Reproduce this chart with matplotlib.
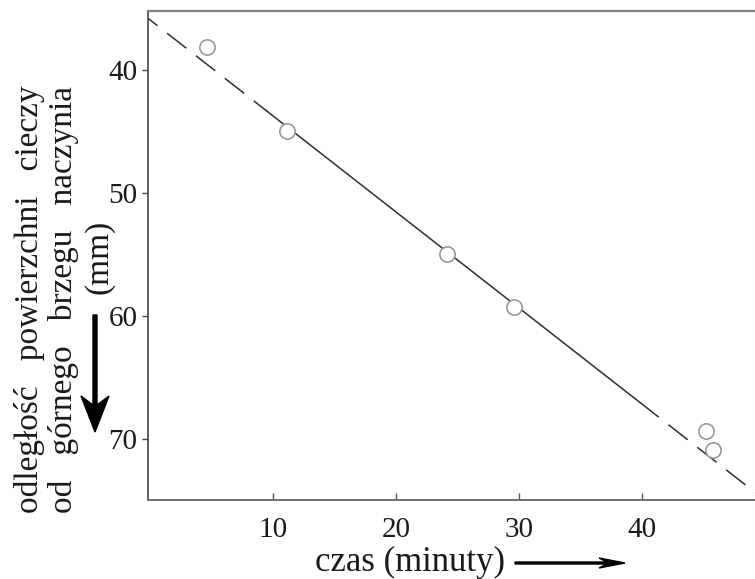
import matplotlib
matplotlib.use("Agg")
import matplotlib.pyplot as plt
from matplotlib.patches import FancyArrow
from matplotlib.transforms import IdentityTransform
import numpy as np

# --- dane ---
czas = [4.6, 11.1, 24.1, 29.6, 45.2, 45.8]          # minuty
odleglosc = [38.1, 45.0, 55.0, 59.3, 69.4, 70.9]    # mm
fit_a = 35.95      # wyraz wolny prostej
fit_b = 0.781      # nachylenie (mm / min)
zakres_ciagly = [9.5, 39.8]   # czesc linii ciaglej
x_ticks = [10, 20, 30, 40]
y_ticks = [40, 50, 60, 70]

plt.rcParams['font.family'] = ['Liberation Serif', 'DejaVu Serif']

fig = plt.figure(figsize=(7.55, 5.79), dpi=100)
ax = fig.add_axes([148 / 755, 1 - 500 / 579, 1 - 148 / 755, (500 - 11) / 579])

# linia dopasowania: przerywana - ciagla - przerywana
x_left = np.array([-1, zakres_ciagly[0]])
x_mid = np.array(zakres_ciagly)
x_right = np.array([zakres_ciagly[1], 52])
for xs, ls in [(x_left, 'dash'), (x_mid, 'solid'), (x_right, 'dash')]:
    line, = ax.plot(xs, fit_a + fit_b * xs, color='#2e2e2e', lw=1.1, zorder=2)
    if ls == 'dash':
        line.set_dashes((16, 8))

ax.plot(czas, odleglosc, 'o', ms=11, mfc='white', mec='#999999', mew=1.2,
        zorder=3, clip_on=False)

ax.set_xlim(-0.2, 49.2)
ax.set_ylim(75, 35.2)
ax.set_xticks(x_ticks)
ax.set_yticks(y_ticks)

ax.spines['right'].set_visible(False)
ax.spines['top'].set_color('#808080')
ax.spines['top'].set_linewidth(1.6)
ax.spines['bottom'].set_color('#707070')
ax.spines['bottom'].set_linewidth(1.4)
ax.spines['left'].set_color('#444444')
ax.spines['left'].set_linewidth(1.2)

ax.tick_params(axis='x', direction='in', length=5, width=1.0, color='#555555',
               pad=12, labelsize=21, labelcolor='#1a1a1a')
ax.tick_params(axis='y', direction='out', length=4.5, width=1.0, color='#444444',
               pad=3, labelsize=21, labelcolor='#1a1a1a')

# opis osi y (trzy kolumny)
fig.text(30 / 755, 1 - 513 / 579, 'odległość   powierzchni   cieczy', rotation=90,
         ha='center', va='bottom', fontsize=24, color='#1a1a1a')
fig.text(64 / 755, 1 - 513 / 579, 'od   górnego   brzegu   naczynia', rotation=90,
         ha='center', va='bottom', fontsize=24, color='#1a1a1a')
fig.text(99 / 755, 1 - 257 / 579, '(mm)', rotation=90,
         ha='center', va='center', fontsize=24, color='#1a1a1a')

# opis osi x
fig.text(410 / 755, 1 - 562 / 579, 'czas (minuty)', ha='center', va='center',
         fontsize=25, color='#1a1a1a')

# strzalki
fig.add_artist(FancyArrow(95, 579 - 315, 0, -(432 - 315), width=4, head_width=28,
                          head_length=36, length_includes_head=True, overhang=0.25,
                          color='black', transform=IdentityTransform()))
fig.add_artist(FancyArrow(515, 579 - 563, 625 - 515, 0, width=2, head_width=10,
                          head_length=26, length_includes_head=True, overhang=0.3,
                          color='black', transform=IdentityTransform()))

fig.savefig('out.png', dpi=100)
